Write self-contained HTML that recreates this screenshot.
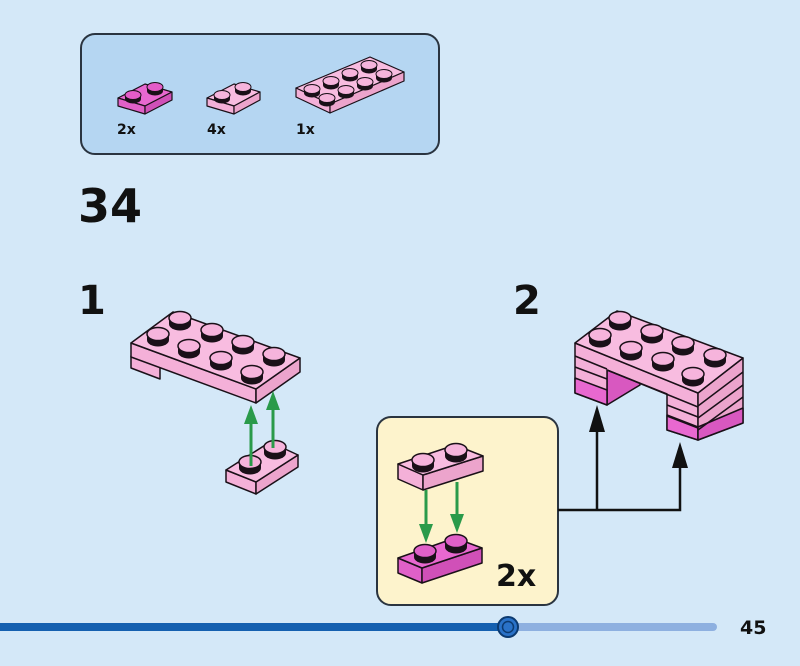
<!DOCTYPE html>
<html><head><meta charset="utf-8"><style>
html,body{margin:0;padding:0;background:#d4e8f8;}
body{width:800px;height:666px;overflow:hidden;position:relative;font-family:"DejaVu Sans","Liberation Sans",sans-serif;}
</style></head><body>
<svg width="800" height="666" viewBox="0 0 800 666" xmlns="http://www.w3.org/2000/svg" style="position:absolute;left:0;top:0">
<defs>
<g id="stud"><ellipse cx="0" cy="4" rx="11" ry="6.5" fill="#1a1018"/><rect x="-11" y="-2" width="22" height="6" fill="#1a1018"/><ellipse cx="0" cy="-2" rx="11" ry="6.5" fill="#f6b4dc" stroke="#1a1018" stroke-width="1.5"/></g>
<g id="studm"><ellipse cx="0" cy="4" rx="11" ry="6.5" fill="#1a1018"/><rect x="-11" y="-2" width="22" height="6" fill="#1a1018"/><ellipse cx="0" cy="-2" rx="11" ry="6.5" fill="#e060c8" stroke="#1a1018" stroke-width="1.5"/></g>
<g id="s2"><ellipse cx="0" cy="3" rx="8" ry="4.5" fill="#1a1018"/><rect x="-8" y="-1" width="16" height="4" fill="#1a1018"/><ellipse cx="0" cy="-1" rx="8" ry="4.5" fill="#f6b4dc" stroke="#1a1018" stroke-width="1"/></g>
<g id="s2m"><ellipse cx="0" cy="3" rx="8" ry="4.5" fill="#1a1018"/><rect x="-8" y="-1" width="16" height="4" fill="#1a1018"/><ellipse cx="0" cy="-1" rx="8" ry="4.5" fill="#e45cc8" stroke="#1a1018" stroke-width="1"/></g>
</defs>
<rect x="81" y="34" width="358" height="120" rx="14" fill="#b5d6f2" stroke="#2a3440" stroke-width="2"/>
<g stroke="#1a1018" stroke-width="1.2" stroke-linejoin="round">
<polygon points="118,98 145,84 172,92 145,106" fill="#e868d0"/>
<polygon points="118,98 145,106 145,114 118,106" fill="#e060c8"/>
<polygon points="145,106 172,92 172,100 145,114" fill="#d050b8"/>
<polygon points="207,98 234,84 260,92 234,106" fill="#f8bce0"/>
<polygon points="207,98 234,106 234,114 207,106" fill="#f4b0d8"/>
<polygon points="234,106 260,92 260,100 234,114" fill="#eca4cc"/>
<polygon points="296,88 370,57 404,72 330,104" fill="#f8bce0"/>
<polygon points="296,88 330,104 330,113 296,97" fill="#f4b0d8"/>
<polygon points="330,104 404,72 404,81 330,113" fill="#eca4cc"/>
</g>
<use href="#s2m" x="133" y="96"/><use href="#s2m" x="155" y="88"/>
<use href="#s2" x="222" y="96"/><use href="#s2" x="243" y="88"/>
<use href="#s2" x="369" y="66"/><use href="#s2" x="350" y="74"/><use href="#s2" x="331" y="82"/><use href="#s2" x="312" y="90"/>
<use href="#s2" x="384" y="75"/><use href="#s2" x="365" y="83"/><use href="#s2" x="346" y="91"/><use href="#s2" x="327" y="99"/>
<text x="117" y="134" font-size="14" font-weight="bold" fill="#111">2x</text>
<text x="207" y="134" font-size="14" font-weight="bold" fill="#111">4x</text>
<text x="296" y="134" font-size="14" font-weight="bold" fill="#111">1x</text>

<text x="78" y="222" font-size="46" font-weight="bold" fill="#111">34</text>
<text x="78" y="314" font-size="40" font-weight="bold" fill="#111">1</text>
<text x="513" y="314" font-size="40" font-weight="bold" fill="#111">2</text>

<g stroke="#1a1018" stroke-width="1.5" stroke-linejoin="round">
<polygon points="131,356 131,368 160,379 160,366" fill="#f4b0d8"/>
<polygon points="131,343 256,389 256,403 131,357" fill="#f4b0d8"/>
<polygon points="256,389 300,358 300,372 256,403" fill="#eca4cc"/>
<polygon points="131,343 173,312 300,358 256,389" fill="#f8bce0"/>
</g>
<use href="#stud" x="180" y="320"/><use href="#stud" x="212" y="332"/><use href="#stud" x="243" y="344"/><use href="#stud" x="274" y="356"/>
<use href="#stud" x="158" y="336"/><use href="#stud" x="189" y="348"/><use href="#stud" x="221" y="360"/><use href="#stud" x="252" y="374"/>
<g stroke="#1a1018" stroke-width="1.5" stroke-linejoin="round">
<polygon points="226,470 256,482 256,494 226,482" fill="#f4b0d8"/>
<polygon points="256,482 298,455 298,467 256,494" fill="#eca4cc"/>
<polygon points="226,470 270,442 298,455 256,482" fill="#f8bce0"/>
</g>
<use href="#stud" x="250" y="464"/><use href="#stud" x="275" y="449"/>
<g stroke="#2a9a4a" stroke-width="3" fill="#2a9a4a">
<line x1="251" y1="466" x2="251" y2="420"/><line x1="273" y1="448" x2="273" y2="405"/>
</g>
<polygon points="251,405 244,424 258,424" fill="#2a9a4a"/>
<polygon points="273,391 266,410 280,410" fill="#2a9a4a"/>

<rect x="377" y="417" width="181" height="188" rx="14" fill="#fdf3cc" stroke="#2a3440" stroke-width="2"/>
<g stroke="#1a1018" stroke-width="1.5" stroke-linejoin="round">
<polygon points="398,464 423,475 423,490 398,479" fill="#f4b0d8"/>
<polygon points="423,475 483,456 483,471 423,490" fill="#eca4cc"/>
<polygon points="398,464 455,445 483,456 423,475" fill="#f8bce0"/>
</g>
<use href="#stud" x="423" y="462"/><use href="#stud" x="456" y="452"/>
<g stroke="#1a1018" stroke-width="1.5" stroke-linejoin="round">
<polygon points="398,558 422,568 422,583 398,573" fill="#e060c8"/>
<polygon points="422,568 482,548 482,563 422,583" fill="#d050b8"/>
<polygon points="398,558 455,538 482,548 422,568" fill="#e868d0"/>
</g>
<use href="#studm" x="425" y="553"/><use href="#studm" x="456" y="543"/>
<g stroke="#2a9a4a" stroke-width="3">
<line x1="426" y1="490" x2="426" y2="528"/><line x1="457" y1="482" x2="457" y2="518"/>
</g>
<polygon points="426,543 419,524 433,524" fill="#2a9a4a"/>
<polygon points="457,533 450,514 464,514" fill="#2a9a4a"/>
<text x="496" y="586" font-size="30" font-weight="bold" fill="#111">2x</text>

<g stroke="#1a1018" stroke-width="1.5" stroke-linejoin="round">
<polygon points="607,370 607,405 640,385 640,382" fill="#d858c0"/>
<polygon points="575,343 698,393 698,440 667,430 667,394 607,370 607,405 575,393" fill="#f4b0d8"/>
<polygon points="575,393 607,405 607,390 575,378" fill="#e868d0"/>
<polygon points="667,415 698,427 698,440 667,430" fill="#e868d0"/>
<polygon points="698,393 743,358 743,423 698,440" fill="#eca4cc"/>
<polygon points="698,427 743,408 743,423 698,440" fill="#d858c0"/>
<polygon points="575,343 617,311 743,358 698,393" fill="#f8bce0"/>
<path d="M575,356 L607,369 M575,367 L607,379 M607,370 L698,407 M667,405 L698,417 M667,416 L698,428 M698,406 L743,372 M698,418 L743,385 M698,430 L743,397" fill="none"/>
</g>
<use href="#stud" x="620" y="320"/><use href="#stud" x="652" y="333"/><use href="#stud" x="683" y="345"/><use href="#stud" x="715" y="357"/>
<use href="#stud" x="600" y="337"/><use href="#stud" x="631" y="350"/><use href="#stud" x="663" y="361"/><use href="#stud" x="693" y="376"/>

<g stroke="#111" stroke-width="2.5" fill="none">
<polyline points="558,510 680,510 680,455"/>
<line x1="597" y1="510" x2="597" y2="425"/>
</g>
<polygon points="597,405 589,432 605,432" fill="#111"/>
<polygon points="680,442 672,468 688,468" fill="#111"/>

<rect x="0" y="623" width="510" height="8" fill="#1560b0"/>
<rect x="505" y="623" width="212" height="8" rx="4" fill="#8eb0e0"/>
<circle cx="508" cy="627" r="10" fill="#2a72c8" stroke="#0c3a70" stroke-width="2"/>
<circle cx="508" cy="627" r="5.5" fill="none" stroke="#0c3a70" stroke-width="1.5"/>
<text x="740" y="634" font-size="19" font-weight="bold" fill="#111">45</text>
</svg>
</body></html>
